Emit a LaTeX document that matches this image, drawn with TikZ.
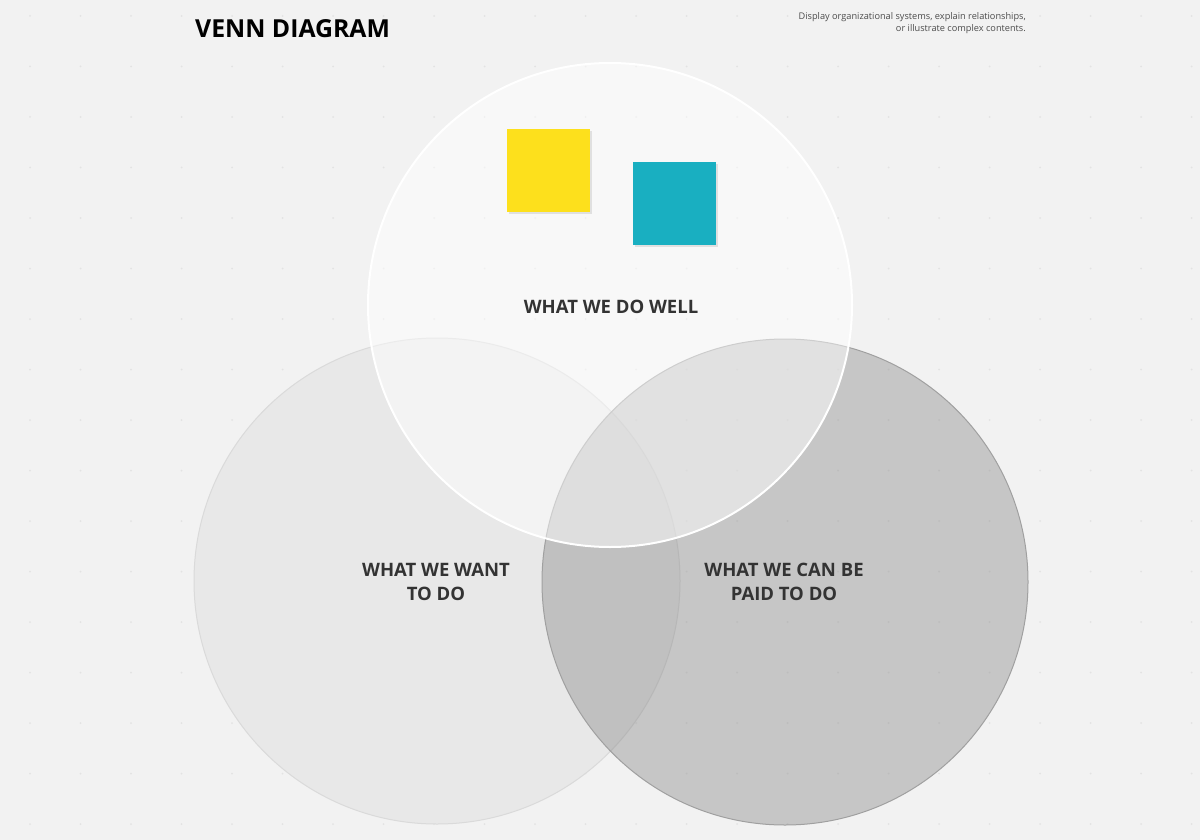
\documentclass[tikz,border=0pt]{standalone}
\usepackage{fontspec}
\setmainfont{Open Sans}
\begin{document}
\begin{tikzpicture}[x=1pt,y=-1pt,
  lbl/.style={font=\bfseries\fontsize{18.5}{24}\selectfont, text=black!80, align=center, inner sep=0pt},
  note/.style={minimum width=83pt, minimum height=83pt, inner sep=0pt, anchor=north west},
  shadowbox/.style={fill=black!12, minimum width=83pt, minimum height=83pt, inner sep=0pt, anchor=north west}]
\definecolor{bg}{HTML}{F2F2F2}
\definecolor{dotc}{HTML}{E3E3E3}
\definecolor{yel}{HTML}{FDE01C}
\definecolor{teal}{HTML}{19AFC1}
\fill[bg] (0,0) rectangle (1200,840);
\useasboundingbox (0,0) rectangle (1200,840);
% dot grid
\foreach \i in {0,...,23} {
  \foreach \j in {0,...,16} {
    \fill[dotc] (30+\i*50.5, 16+\j*50.5) circle (1pt);
  }
}
% title
\node[anchor=west, font=\bfseries\fontsize{24.8}{30}\selectfont, inner sep=0pt] (title) at (195,29) {VENN DIAGRAM};
\node[anchor=east, align=right, font=\fontsize{9.2}{12}\selectfont, text=black!70, inner sep=0pt] (sub) at (1026,23)
  {Display organizational systems, explain relationships,\\or illustrate complex contents.};
% circles
\coordinate (cl) at (437,581);
\coordinate (cr) at (785,582);
\coordinate (ct) at (610,305);
\fill[fill={rgb,255:red,232;green,232;blue,232}] (cl) circle (243);
\draw[draw={rgb,255:red,218;green,218;blue,218}, line width=1pt] (cl) circle (243);
\fill[fill={rgb,255:red,132;green,132;blue,132}, fill opacity=0.4] (cr) circle (243);
\draw[draw={rgb,255:red,160;green,160;blue,160}, line width=1pt] (cr) circle (243);
\fill[white, fill opacity=0.48] (ct) circle (242);
\draw[white, line width=2pt] (ct) circle (242);
% sticky notes
\node[shadowbox] (ys) at (509,131) {};
\node[note, fill=yel] (y) at (507,129) {};
\node[shadowbox] (ts) at (635,164) {};
\node[note, fill=teal] (t) at (633,162) {};
% labels
\node[lbl] (lt) at (611,307) {WHAT WE DO WELL};
\node[lbl] (ll) at (436,582) {WHAT WE WANT\\TO DO};
\node[lbl] (lr) at (784,582) {WHAT WE CAN BE\\PAID TO DO};
\end{tikzpicture}
\end{document}
